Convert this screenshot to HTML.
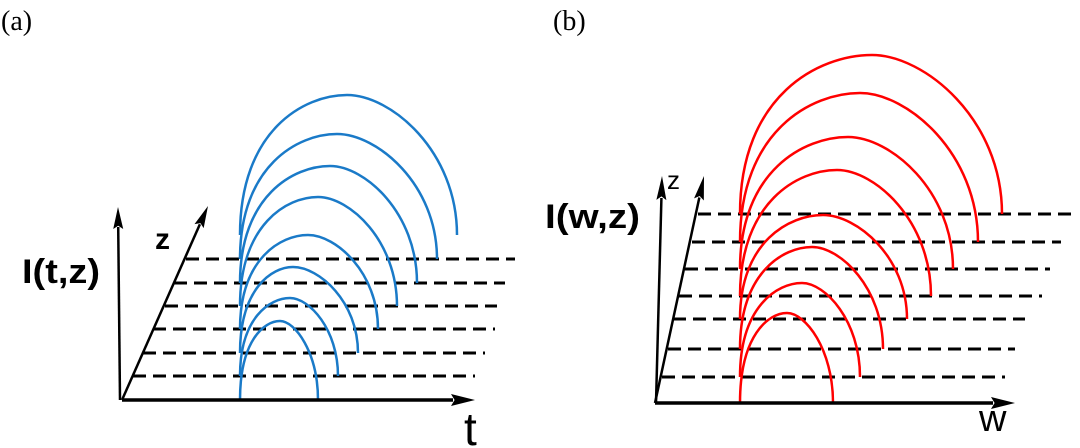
<!DOCTYPE html>
<html><head><meta charset="utf-8"><style>
html,body{margin:0;padding:0;background:#fff;}
svg{display:block;}
</style></head><body>
<svg id="s" width="1080" height="448" viewBox="0 0 1080 448" xmlns="http://www.w3.org/2000/svg">
<defs>
<marker id="ah" markerWidth="12" markerHeight="22" refX="6" refY="1" orient="auto-start-reverse" markerUnits="userSpaceOnUse" viewBox="0 0 12 22">
</marker>
</defs>
<text x="1" y="30" font-family="Liberation Serif, serif" font-size="28">(a)</text>
<text x="553" y="30" font-family="Liberation Serif, serif" font-size="28">(b)</text>
<text x="22" y="283" font-family="Liberation Sans, sans-serif" font-weight="bold" font-size="34" textLength="78" lengthAdjust="spacingAndGlyphs">I(t,z)</text>
<text x="155" y="249" font-family="Liberation Sans, sans-serif" font-weight="bold" font-size="30">z</text>
<text x="464" y="445" font-family="Liberation Sans, sans-serif" font-size="46">t</text>
<text x="545" y="228" font-family="Liberation Sans, sans-serif" font-weight="bold" font-size="34" textLength="95" lengthAdjust="spacingAndGlyphs">I(w,z)</text>
<text x="667" y="189" font-family="Liberation Sans, sans-serif" font-size="26">z</text>
<text x="979" y="431" font-family="Liberation Sans, sans-serif" font-size="38">w</text>
<g id="g"></g>
</svg>
<script>
var g=document.getElementById('g'),h='';
function line(x1,y1,x2,y2,w,extra){h+='<line x1="'+x1+'" y1="'+y1+'" x2="'+x2+'" y2="'+y2+'" stroke="#000" stroke-width="'+w+'" '+(extra||'')+'/>';}
function arrow(x1,y1,x2,y2,w,L,W){var dx=x2-x1,dy=y2-y1,d=Math.sqrt(dx*dx+dy*dy),ux=dx/d,uy=dy/d;
var bx=x2-ux*L,by=y2-uy*L;line(x1,y1,bx+ux*2,by+uy*2,w);
h+='<path d="M'+x2+','+y2+' L'+(bx-uy*W)+','+(by+ux*W)+' L'+(bx+ux*L*0.15)+','+(by+uy*L*0.15)+' L'+(bx+uy*W)+','+(by-ux*W)+' Z" fill="#000"/>';}
function arc(x0,y0,xp,yp,x1,y1,c){var hh=y0-yp,h2=y1-yp;
h+='<path d="M'+x0+','+y0+' C'+x0+','+(y0-hh*0.75)+' '+(xp-(xp-x0)*0.4)+','+yp+' '+xp+','+yp+' C'+(xp+(x1-xp)*0.4)+','+yp+' '+x1+','+(y1-h2*0.6)+' '+x1+','+y1+'" fill="none" stroke="'+c+'" stroke-width="2.5"/>';}
var ay=[259,283,306,329,353,376],al=[186,174,165,153,143,133],ar=[515,505,497,495,485,475];
for(var i=0;i<6;i++)line(al[i],ay[i],ar[i],ay[i],3,'stroke-dasharray="13,7"');
var A=[[400,280,321,318],[376,290,298,338],[353,293,267,358],[329,308,235,378],[306,318,197,397],[283,330,166,417],[259,337,134,437],[235,347,95,457]];
A.forEach(function(a){arc(240,a[0],a[1],a[2],a[3],a[0],'#1a7ac8');});
arrow(122,400,475,400,3.5,24,6);
arrow(120,400,118,207,2.5,22,5);
arrow(122,400,208,206,2.5,22,5);
var by=[214,242,269,296,319,349,377],bl=[698,692,685,679,673,668,662],br=[1077,1061,1050,1042,1025,1015,1005];
for(var i=0;i<7;i++)line(bl[i],by[i],br[i],by[i],3,'stroke-dasharray="13,7"');
var B=[[403,787,313,833],[377,802,283,860],[349,812,247,883],[319,823,215,907],[296,837,170,931],[269,848,137,953],[242,860,93,978],[214,872,55,1002]];
B.forEach(function(a){arc(740,a[0],a[1],a[2],a[3],a[0],'#ff0000');});
arrow(655,403,1015,403,3.5,24,6);
arrow(656,403,662,176,2.5,24,5);
arrow(655,403,704,176,2.5,24,5);
g.innerHTML=h;
</script>
</body></html>
